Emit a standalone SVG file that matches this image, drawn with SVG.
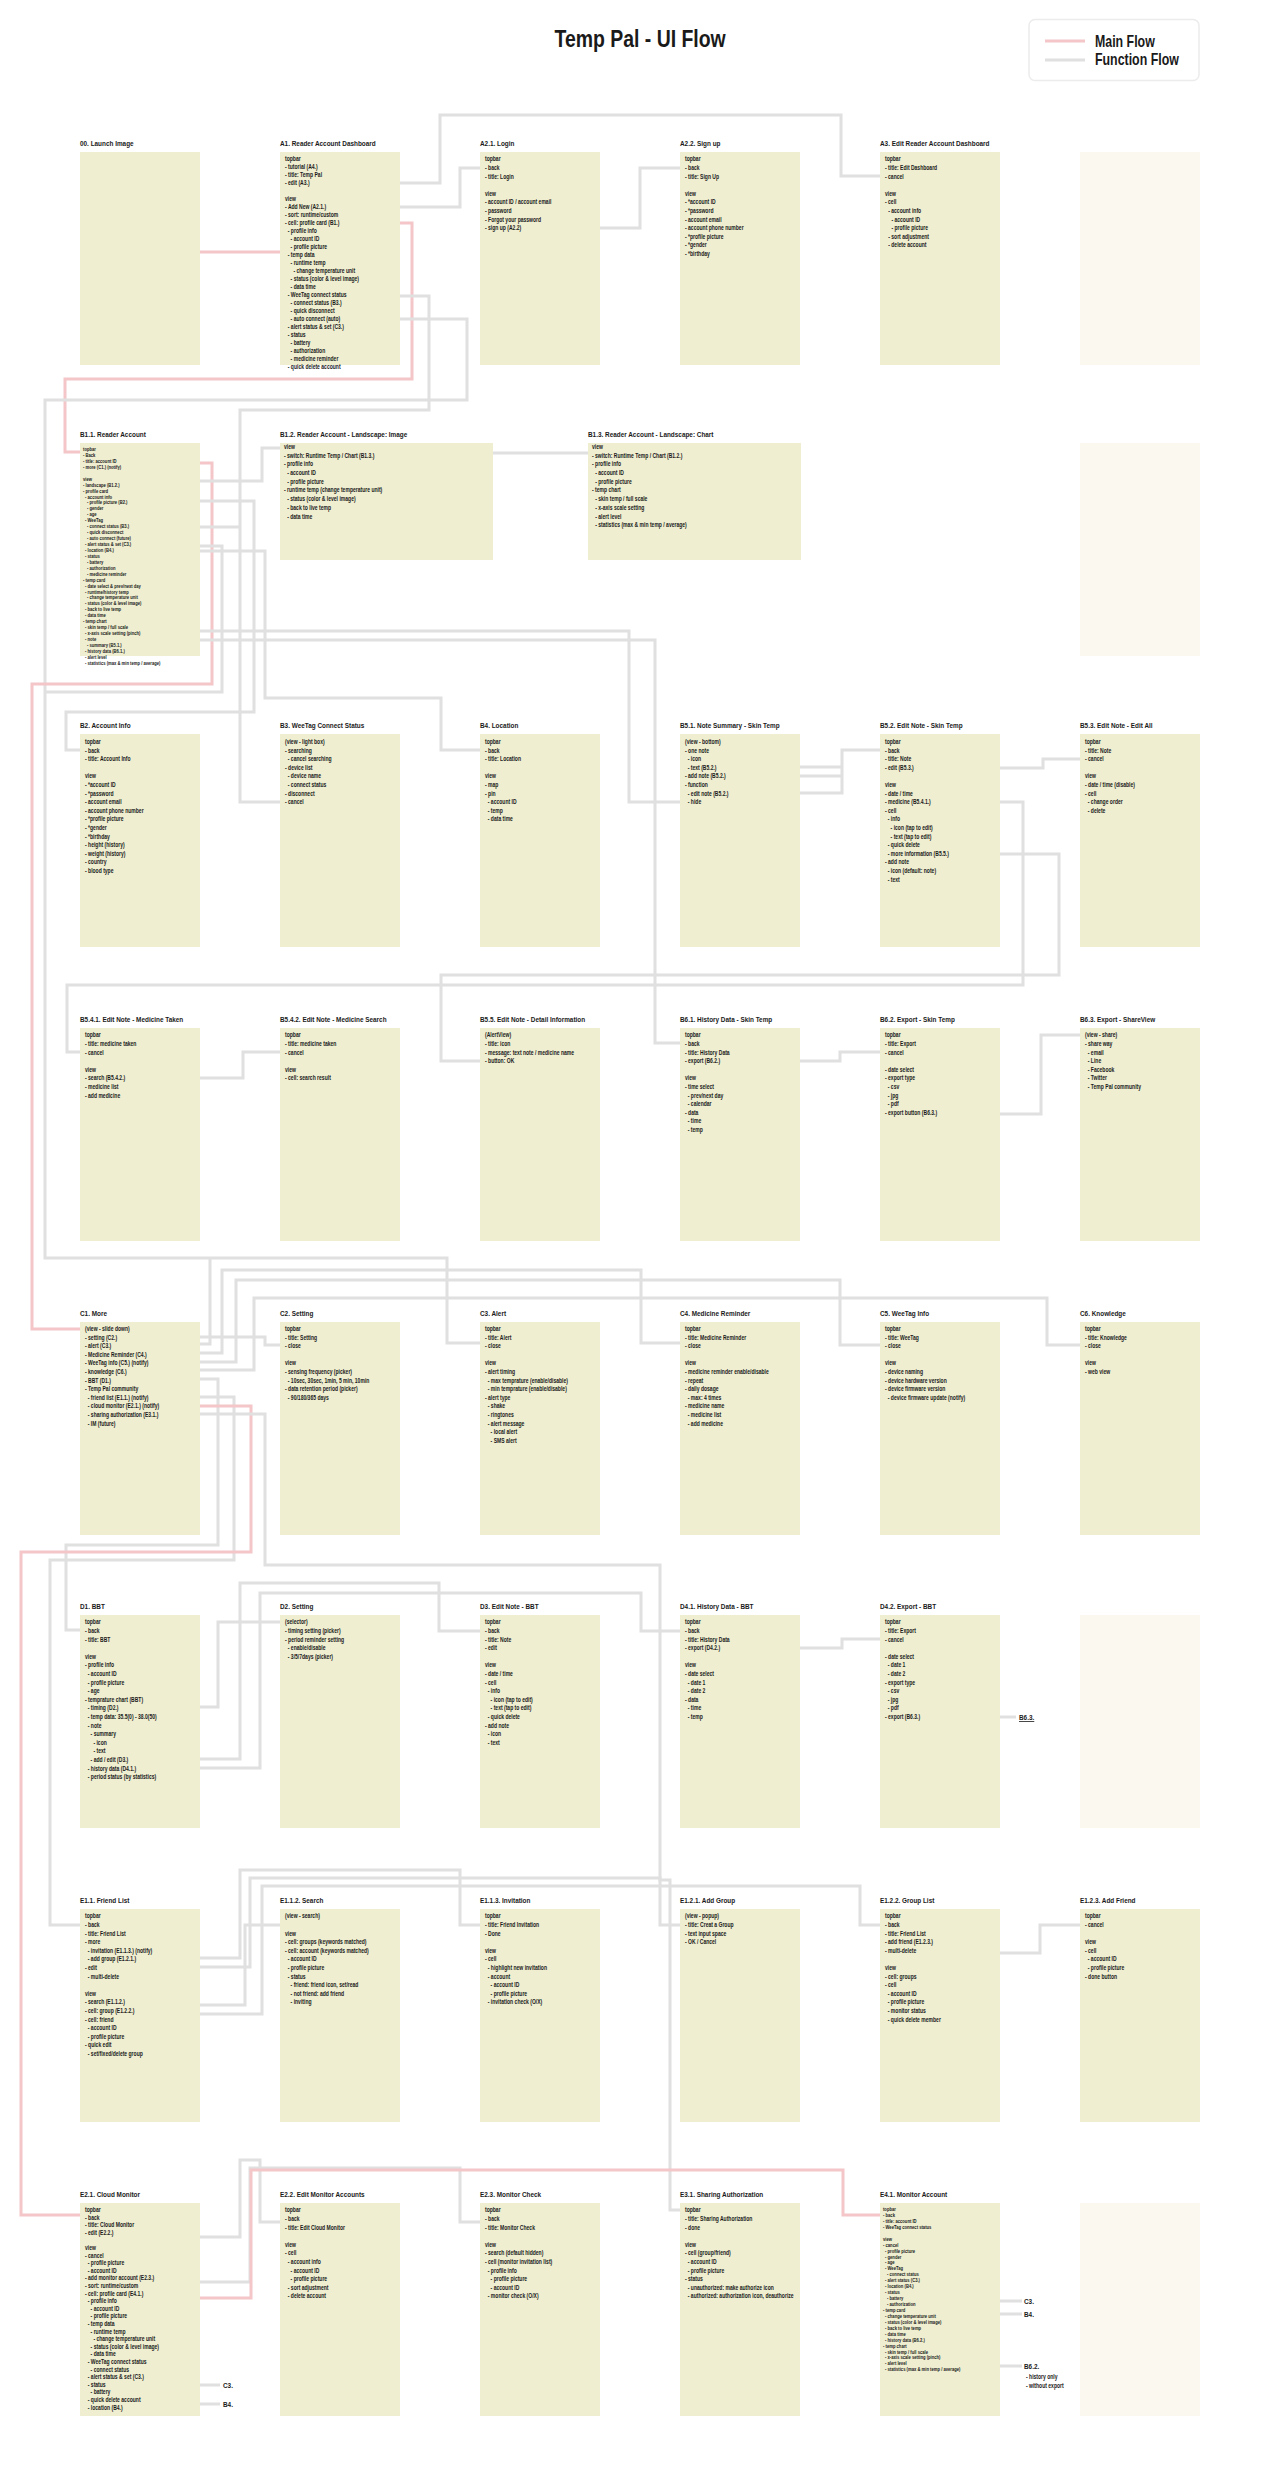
<svg xmlns="http://www.w3.org/2000/svg" width="1280" height="2492" viewBox="0 0 1280 2492">
<style>
text{font-family:"Liberation Sans",Arial,sans-serif;fill:#1a1a1a;transform-box:fill-box;transform-origin:0 0;transform:scaleX(.8)}
.h{font-size:24px;font-weight:bold;transform-origin:50% 0;transform:scaleX(.81)}
.lg{font-size:16.5px;font-weight:bold;transform:scaleX(.75)}
.t{font-size:8px;font-weight:bold}
.b{font-size:6.3px;font-weight:bold}
.s{font-size:5.2px;font-weight:bold}
.box{fill:#efeed0}
.ghost{fill:#fbf9ef}
.fn{fill:none;stroke:#e0e0e0;stroke-width:3}
.mn{fill:none;stroke:#f4c6c8;stroke-width:3}
</style>
<rect width="1280" height="2492" fill="#ffffff"/>
<text class="h" x="640" y="47" text-anchor="middle">Temp Pal - UI Flow</text>
<g id="legend">
<rect x="1029" y="19.5" width="170" height="61" rx="6" fill="#fff" stroke="#ececec" stroke-width="1.5"/>
<line x1="1045" y1="41" x2="1085" y2="41" class="mn"/>
<line x1="1045" y1="60" x2="1085" y2="60" class="fn"/>
<text class="lg" x="1095" y="47">Main Flow</text>
<text class="lg" x="1095" y="65.5">Function Flow</text>
</g>

<g id="connectors">
<path class="mn" d="M200,252H280"/>
<path class="mn" d="M400,223H412V379H65V452H80"/>
<path class="fn" d="M400,183H440V115H841V176H880"/>
<path class="fn" d="M400,207H460V168H480"/>
<path class="fn" d="M600,228H640V168H680"/>
<path class="fn" d="M400,296H429V410H240V802H280"/>
<path class="fn" d="M400,319H467V400H45V1258H447V1343H480"/>
<path class="mn" d="M200,463H212V684H32V1329H80"/>
<path class="fn" d="M200,481H262V448H280"/>
<path class="fn" d="M493,453H588"/>
<path class="fn" d="M200,501H254V712H66V750H80"/>
<path class="fn" d="M200,527H240"/>
<path class="fn" d="M200,546H222V692H45"/>
<path class="fn" d="M200,551H265V698H441V750H480"/>
<path class="fn" d="M200,631H629V802H680"/>
<path class="fn" d="M200,640H655V1043H680"/>
<path class="fn" d="M800,767H842V750H880M800,776H842M800,793H842V750"/>
<path class="fn" d="M1000,768H1043V759H1080"/>
<path class="fn" d="M1000,802H1023V985H67V1052H80"/>
<path class="fn" d="M1000,854H1059V975H441V1061H480"/>
<path class="fn" d="M200,1078H243V1052H280"/>
<path class="fn" d="M800,1061H840V1052H880"/>
<path class="fn" d="M1000,1114H1041V1035H1080"/>
<path class="fn" d="M200,1337H265V1345H280"/>
<path class="fn" d="M200,1344H210V1258"/>
<path class="fn" d="M200,1353H222V1270H641V1343H680"/>
<path class="fn" d="M200,1362H236V1280H840V1345H880"/>
<path class="fn" d="M200,1370H254V1298H1047V1345H1080"/>
<path class="fn" d="M200,1379H218V1545H66V1630H80"/>
<path class="fn" d="M200,1397H234V1560H50V1925H80"/>
<path class="mn" d="M200,1406H251V1552H21V2215H80"/>
<path class="fn" d="M200,1414H265V1565H660V1880H670V2210H680"/>
<path class="fn" d="M200,1707H218V1622H280"/>
<path class="fn" d="M200,1759H240V1583H439V1631H480"/>
<path class="fn" d="M200,1768H260V1593H641V1631H680"/>
<path class="fn" d="M800,1648H842V1639H880"/>
<path class="fn" d="M1000,1717H1016"/>
<path class="fn" d="M200,1958H240V1870H460V1925H480"/>
<path class="fn" d="M200,1967H250V1878H660V1925H680"/>
<path class="fn" d="M200,2005H245V1925H280"/>
<path class="fn" d="M200,2014H262V1886H860V1925H880"/>
<path class="fn" d="M1000,1953H1040V1925H1080"/>
<path class="fn" d="M200,2237H240V2160H260V2222H280"/>
<path class="fn" d="M200,2282H250V2168H460V2222H480"/>
<path class="mn" d="M200,2298H251V2170H843V2215H880"/>
<path class="fn" d="M200,2385H220M200,2404H220"/>
<path class="fn" d="M1000,2301H1022M1000,2314H1022M1000,2366H1022"/>
</g>

<g id="n00"><rect class="box" x="80" y="152" width="120" height="213"/><text class="t" x="80" y="146.5">00. Launch Image</text></g>

<g id="nA1"><rect class="box" x="280" y="152" width="120" height="213"/><text class="t" x="280" y="146.5">A1. Reader Account Dashboard</text>
<text class="b" y="161.5"><tspan x="285">topbar</tspan><tspan x="285" dy="8">- tutorial (A4.)</tspan><tspan x="285" dy="8">- title: Temp Pal</tspan><tspan x="285" dy="8">- edit (A3.)</tspan><tspan x="285" dy="16">view</tspan><tspan x="285" dy="8">- Add New (A2.1.)</tspan><tspan x="285" dy="8">- sort: runtime/custom</tspan><tspan x="285" dy="8">- cell: profile card (B1.)</tspan><tspan x="288.5" dy="8">- profile info</tspan><tspan x="292" dy="8">- account ID</tspan><tspan x="292" dy="8">- profile picture</tspan><tspan x="288.5" dy="8">- temp data</tspan><tspan x="292" dy="8">- runtime temp</tspan><tspan x="295.5" dy="8">- change temperature unit</tspan><tspan x="292" dy="8">- status (color &amp; level image)</tspan><tspan x="292" dy="8">- data time</tspan><tspan x="288.5" dy="8">- WeeTag connect status</tspan><tspan x="292" dy="8">- connect status (B3.)</tspan><tspan x="292" dy="8">- quick disconnect</tspan><tspan x="292" dy="8">- auto connect (auto)</tspan><tspan x="288.5" dy="8">- alert status &amp; set (C3.)</tspan><tspan x="288.5" dy="8">- status</tspan><tspan x="292" dy="8">- battery</tspan><tspan x="292" dy="8">- authorization</tspan><tspan x="292" dy="8">- medicine reminder</tspan><tspan x="288.5" dy="8">- quick delete account</tspan></text></g>

<g id="nA21"><rect class="box" x="480" y="152" width="120" height="213"/><text class="t" x="480" y="146.5">A2.1. Login</text>
<text class="b" y="161.5"><tspan x="485">topbar</tspan><tspan x="485" dy="8.6">- back</tspan><tspan x="485" dy="8.6">- title: Login</tspan><tspan x="485" dy="17.2">view</tspan><tspan x="485" dy="8.6">- account ID / account email</tspan><tspan x="485" dy="8.6">- password</tspan><tspan x="485" dy="8.6">- Forgot your password</tspan><tspan x="485" dy="8.6">- sign up (A2.2)</tspan></text></g>

<g id="nA22"><rect class="box" x="680" y="152" width="120" height="213"/><text class="t" x="680" y="146.5">A2.2. Sign up</text>
<text class="b" y="161.5"><tspan x="685">topbar</tspan><tspan x="685" dy="8.6">- back</tspan><tspan x="685" dy="8.6">- title: Sign Up</tspan><tspan x="685" dy="17.2">view</tspan><tspan x="685" dy="8.6">- *account ID</tspan><tspan x="685" dy="8.6">- *password</tspan><tspan x="685" dy="8.6">- account email</tspan><tspan x="685" dy="8.6">- account phone number</tspan><tspan x="685" dy="8.6">- *profile picture</tspan><tspan x="685" dy="8.6">- *gender</tspan><tspan x="685" dy="8.6">- *birthday</tspan></text></g>

<g id="nA3"><rect class="box" x="880" y="152" width="120" height="213"/><text class="t" x="880" y="146.5">A3. Edit Reader Account Dashboard</text>
<text class="b" y="161.5"><tspan x="885">topbar</tspan><tspan x="885" dy="8.6">- title: Edit Dashboard</tspan><tspan x="885" dy="8.6">- cancel</tspan><tspan x="885" dy="17.2">view</tspan><tspan x="885" dy="8.6">- cell</tspan><tspan x="889" dy="8.6">- account info</tspan><tspan x="893" dy="8.6">- account ID</tspan><tspan x="893" dy="8.6">- profile picture</tspan><tspan x="889" dy="8.6">- sort adjustment</tspan><tspan x="889" dy="8.6">- delete account</tspan></text></g>

<g id="nA-blank"><rect class="ghost" x="1080" y="152" width="120" height="213"/></g>

<g id="nB11"><rect class="box" x="80" y="443" width="120" height="213"/><text class="t" x="80" y="437.5">B1.1. Reader Account</text>
<text class="s" y="451"><tspan x="83">topbar</tspan><tspan x="83" dy="5.94">- Back</tspan><tspan x="83" dy="5.94">- title: account ID</tspan><tspan x="83" dy="5.94">- more (C1.) (notify)</tspan><tspan x="83" dy="11.88">view</tspan><tspan x="83" dy="5.94">- landscape (B1.2.)</tspan><tspan x="83" dy="5.94">- profile card</tspan><tspan x="85.5" dy="5.94">- account info</tspan><tspan x="88" dy="5.94">- profile picture (B2.)</tspan><tspan x="88" dy="5.94">- gender</tspan><tspan x="88" dy="5.94">- age</tspan><tspan x="85.5" dy="5.94">- WeeTag</tspan><tspan x="88" dy="5.94">- connect status (B3.)</tspan><tspan x="88" dy="5.94">- quick disconnect</tspan><tspan x="88" dy="5.94">- auto connect (future)</tspan><tspan x="85.5" dy="5.94">- alert status &amp; set (C3.)</tspan><tspan x="85.5" dy="5.94">- location (B4.)</tspan><tspan x="85.5" dy="5.94">- status</tspan><tspan x="88" dy="5.94">- battery</tspan><tspan x="88" dy="5.94">- authorization</tspan><tspan x="88" dy="5.94">- medicine reminder</tspan><tspan x="83" dy="5.94">- temp card</tspan><tspan x="85.5" dy="5.94">- date select &amp; prev/next day</tspan><tspan x="85.5" dy="5.94">- runtime/history temp</tspan><tspan x="88" dy="5.94">- change temperature unit</tspan><tspan x="85.5" dy="5.94">- status (color &amp; level image)</tspan><tspan x="85.5" dy="5.94">- back to live temp</tspan><tspan x="85.5" dy="5.94">- data time</tspan><tspan x="83" dy="5.94">- temp chart</tspan><tspan x="85.5" dy="5.94">- skin temp / full scale</tspan><tspan x="85.5" dy="5.94">- x-axis scale setting (pinch)</tspan><tspan x="85.5" dy="5.94">- note</tspan><tspan x="88" dy="5.94">- summary (B5.1.)</tspan><tspan x="85.5" dy="5.94">- history data (B6.1.)</tspan><tspan x="85.5" dy="5.94">- alert level</tspan><tspan x="85.5" dy="5.94">- statistics (max &amp; min temp / average)</tspan></text></g>

<g id="nB12"><rect class="box" x="280" y="443" width="213" height="117"/><text class="t" x="280" y="437.5">B1.2. Reader Account - Landscape: Image</text>
<text class="b" y="449"><tspan x="284">view</tspan><tspan x="284" dy="8.7">- switch: Runtime Temp / Chart (B1.3.)</tspan><tspan x="284" dy="8.7">- profile info</tspan><tspan x="288" dy="8.7">- account ID</tspan><tspan x="288" dy="8.7">- profile picture</tspan><tspan x="284" dy="8.7">- runtime temp (change temperature unit)</tspan><tspan x="288" dy="8.7">- status (color &amp; level image)</tspan><tspan x="288" dy="8.7">- back to live temp</tspan><tspan x="288" dy="8.7">- data time</tspan></text></g>

<g id="nB13"><rect class="box" x="588" y="443" width="213" height="117"/><text class="t" x="588" y="437.5">B1.3. Reader Account - Landscape: Chart</text>
<text class="b" y="449"><tspan x="592">view</tspan><tspan x="592" dy="8.7">- switch: Runtime Temp / Chart (B1.2.)</tspan><tspan x="592" dy="8.7">- profile info</tspan><tspan x="596" dy="8.7">- account ID</tspan><tspan x="596" dy="8.7">- profile picture</tspan><tspan x="592" dy="8.7">- temp chart</tspan><tspan x="596" dy="8.7">- skin temp / full scale</tspan><tspan x="596" dy="8.7">- x-axis scale setting</tspan><tspan x="596" dy="8.7">- alert level</tspan><tspan x="596" dy="8.7">- statistics (max &amp; min temp / average)</tspan></text></g>

<g id="nB-blank"><rect class="ghost" x="1080" y="443" width="120" height="213"/></g>

<g id="nB2"><rect class="box" x="80" y="734" width="120" height="213"/><text class="t" x="80" y="728.5">B2. Account Info</text>
<text class="b" y="744"><tspan x="85">topbar</tspan><tspan x="85" dy="8.6">- back</tspan><tspan x="85" dy="8.6">- title: Account Info</tspan><tspan x="85" dy="17.2">view</tspan><tspan x="85" dy="8.6">- *account ID</tspan><tspan x="85" dy="8.6">- *password</tspan><tspan x="85" dy="8.6">- account email</tspan><tspan x="85" dy="8.6">- account phone number</tspan><tspan x="85" dy="8.6">- *profile picture</tspan><tspan x="85" dy="8.6">- *gender</tspan><tspan x="85" dy="8.6">- *birthday</tspan><tspan x="85" dy="8.6">- height (history)</tspan><tspan x="85" dy="8.6">- weight (history)</tspan><tspan x="85" dy="8.6">- country</tspan><tspan x="85" dy="8.6">- blood type</tspan></text></g>

<g id="nB3"><rect class="box" x="280" y="734" width="120" height="213"/><text class="t" x="280" y="728.5">B3. WeeTag Connect Status</text>
<text class="b" y="744"><tspan x="285">(view - light box)</tspan><tspan x="285" dy="8.6">- searching</tspan><tspan x="288.5" dy="8.6">- cancel searching</tspan><tspan x="285" dy="8.6">- device list</tspan><tspan x="288.5" dy="8.6">- device name</tspan><tspan x="288.5" dy="8.6">- connect status</tspan><tspan x="285" dy="8.6">- disconnect</tspan><tspan x="285" dy="8.6">- cancel</tspan></text></g>

<g id="nB4"><rect class="box" x="480" y="734" width="120" height="213"/><text class="t" x="480" y="728.5">B4. Location</text>
<text class="b" y="744"><tspan x="485">topbar</tspan><tspan x="485" dy="8.6">- back</tspan><tspan x="485" dy="8.6">- title: Location</tspan><tspan x="485" dy="17.2">view</tspan><tspan x="485" dy="8.6">- map</tspan><tspan x="485" dy="8.6">- pin</tspan><tspan x="488.5" dy="8.6">- account ID</tspan><tspan x="488.5" dy="8.6">- temp</tspan><tspan x="488.5" dy="8.6">- data time</tspan></text></g>

<g id="nB51"><rect class="box" x="680" y="734" width="120" height="213"/><text class="t" x="680" y="728.5">B5.1. Note Summary - Skin Temp</text>
<text class="b" y="744"><tspan x="685">(view - bottom)</tspan><tspan x="685" dy="8.6">- one note</tspan><tspan x="688.5" dy="8.6">- icon</tspan><tspan x="688.5" dy="8.6">- text (B5.2.)</tspan><tspan x="685" dy="8.6">- add note (B5.2.)</tspan><tspan x="685" dy="8.6">- function</tspan><tspan x="688.5" dy="8.6">- edit note (B5.2.)</tspan><tspan x="688.5" dy="8.6">- hide</tspan></text></g>

<g id="nB52"><rect class="box" x="880" y="734" width="120" height="213"/><text class="t" x="880" y="728.5">B5.2. Edit Note - Skin Temp</text>
<text class="b" y="744"><tspan x="885">topbar</tspan><tspan x="885" dy="8.6">- back</tspan><tspan x="885" dy="8.6">- title: Note</tspan><tspan x="885" dy="8.6">- edit (B5.3.)</tspan><tspan x="885" dy="17.2">view</tspan><tspan x="885" dy="8.6">- date / time</tspan><tspan x="885" dy="8.6">- medicine (B5.4.1.)</tspan><tspan x="885" dy="8.6">- cell</tspan><tspan x="888.5" dy="8.6">- info</tspan><tspan x="892" dy="8.6">- icon (tap to edit)</tspan><tspan x="892" dy="8.6">- text (tap to edit)</tspan><tspan x="888.5" dy="8.6">- quick delete</tspan><tspan x="888.5" dy="8.6">- more information (B5.5.)</tspan><tspan x="885" dy="8.6">- add note</tspan><tspan x="888.5" dy="8.6">- icon (default: note)</tspan><tspan x="888.5" dy="8.6">- text</tspan></text></g>

<g id="nB53"><rect class="box" x="1080" y="734" width="120" height="213"/><text class="t" x="1080" y="728.5">B5.3. Edit Note - Edit All</text>
<text class="b" y="744"><tspan x="1085">topbar</tspan><tspan x="1085" dy="8.6">- title: Note</tspan><tspan x="1085" dy="8.6">- cancel</tspan><tspan x="1085" dy="17.2">view</tspan><tspan x="1085" dy="8.6">- date / time (disable)</tspan><tspan x="1085" dy="8.6">- cell</tspan><tspan x="1088.5" dy="8.6">- change order</tspan><tspan x="1088.5" dy="8.6">- delete</tspan></text></g>

<g id="nB541"><rect class="box" x="80" y="1028" width="120" height="213"/><text class="t" x="80" y="1022.5">B5.4.1. Edit Note - Medicine Taken</text>
<text class="b" y="1037.5"><tspan x="85">topbar</tspan><tspan x="85" dy="8.6">- title: medicine taken</tspan><tspan x="85" dy="8.6">- cancel</tspan><tspan x="85" dy="17.2">view</tspan><tspan x="85" dy="8.6">- search (B5.4.2.)</tspan><tspan x="85" dy="8.6">- medicine list</tspan><tspan x="85" dy="8.6">- add medicine</tspan></text></g>

<g id="nB542"><rect class="box" x="280" y="1028" width="120" height="213"/><text class="t" x="280" y="1022.5">B5.4.2. Edit Note - Medicine Search</text>
<text class="b" y="1037.5"><tspan x="285">topbar</tspan><tspan x="285" dy="8.6">- title: medicine taken</tspan><tspan x="285" dy="8.6">- cancel</tspan><tspan x="285" dy="17.2">view</tspan><tspan x="285" dy="8.6">- cell: search result</tspan></text></g>

<g id="nB55"><rect class="box" x="480" y="1028" width="120" height="213"/><text class="t" x="480" y="1022.5">B5.5. Edit Note - Detail Information</text>
<text class="b" y="1037.5"><tspan x="485">(AlertView)</tspan><tspan x="485" dy="8.6">- title: icon</tspan><tspan x="485" dy="8.6">- message: text note / medicine name</tspan><tspan x="485" dy="8.6">- button: OK</tspan></text></g>

<g id="nB61"><rect class="box" x="680" y="1028" width="120" height="213"/><text class="t" x="680" y="1022.5">B6.1. History Data - Skin Temp</text>
<text class="b" y="1037.5"><tspan x="685">topbar</tspan><tspan x="685" dy="8.6">- back</tspan><tspan x="685" dy="8.6">- title: History Data</tspan><tspan x="685" dy="8.6">- export (B6.2.)</tspan><tspan x="685" dy="17.2">view</tspan><tspan x="685" dy="8.6">- time select</tspan><tspan x="688.5" dy="8.6">- prev/next day</tspan><tspan x="688.5" dy="8.6">- calendar</tspan><tspan x="685" dy="8.6">- data</tspan><tspan x="688.5" dy="8.6">- time</tspan><tspan x="688.5" dy="8.6">- temp</tspan></text></g>

<g id="nB62"><rect class="box" x="880" y="1028" width="120" height="213"/><text class="t" x="880" y="1022.5">B6.2. Export - Skin Temp</text>
<text class="b" y="1037.5"><tspan x="885">topbar</tspan><tspan x="885" dy="8.6">- title: Export</tspan><tspan x="885" dy="8.6">- cancel</tspan><tspan x="885" dy="17.2">- date select</tspan><tspan x="885" dy="8.6">- export type</tspan><tspan x="888.5" dy="8.6">- csv</tspan><tspan x="888.5" dy="8.6">- jpg</tspan><tspan x="888.5" dy="8.6">- pdf</tspan><tspan x="885" dy="8.6">- export button (B6.3.)</tspan></text></g>

<g id="nB63"><rect class="box" x="1080" y="1028" width="120" height="213"/><text class="t" x="1080" y="1022.5">B6.3. Export - ShareView</text>
<text class="b" y="1037.5"><tspan x="1085">(view - share)</tspan><tspan x="1085" dy="8.6">- share way</tspan><tspan x="1088.5" dy="8.6">- email</tspan><tspan x="1088.5" dy="8.6">- Line</tspan><tspan x="1088.5" dy="8.6">- Facebook</tspan><tspan x="1088.5" dy="8.6">- Twitter</tspan><tspan x="1088.5" dy="8.6">- Temp Pal community</tspan></text></g>

<g id="nC1"><rect class="box" x="80" y="1322" width="120" height="213"/><text class="t" x="80" y="1316.5">C1. More</text>
<text class="b" y="1331"><tspan x="85">(view - slide down)</tspan><tspan x="85" dy="8.6">- setting (C2.)</tspan><tspan x="85" dy="8.6">- alert (C3.)</tspan><tspan x="85" dy="8.6">- Medicine Reminder (C4.)</tspan><tspan x="85" dy="8.6">- WeeTag info (C5.) (notify)</tspan><tspan x="85" dy="8.6">- knowledge (C6.)</tspan><tspan x="85" dy="8.6">- BBT (D1.)</tspan><tspan x="85" dy="8.6">- Temp Pal community</tspan><tspan x="88.5" dy="8.6">- friend list (E1.1.) (notify)</tspan><tspan x="88.5" dy="8.6">- cloud monitor (E2.1.) (notify)</tspan><tspan x="88.5" dy="8.6">- sharing authorization (E3.1.)</tspan><tspan x="88.5" dy="8.6">- IM (future)</tspan></text></g>

<g id="nC2"><rect class="box" x="280" y="1322" width="120" height="213"/><text class="t" x="280" y="1316.5">C2. Setting</text>
<text class="b" y="1331"><tspan x="285">topbar</tspan><tspan x="285" dy="8.6">- title: Setting</tspan><tspan x="285" dy="8.6">- close</tspan><tspan x="285" dy="17.2">view</tspan><tspan x="285" dy="8.6">- sensing frequency (picker)</tspan><tspan x="288.5" dy="8.6">- 10sec, 30sec, 1min, 5 min, 10min</tspan><tspan x="285" dy="8.6">- data retention period (picker)</tspan><tspan x="288.5" dy="8.6">- 90/180/365 days</tspan></text></g>

<g id="nC3"><rect class="box" x="480" y="1322" width="120" height="213"/><text class="t" x="480" y="1316.5">C3. Alert</text>
<text class="b" y="1331"><tspan x="485">topbar</tspan><tspan x="485" dy="8.6">- title: Alert</tspan><tspan x="485" dy="8.6">- close</tspan><tspan x="485" dy="17.2">view</tspan><tspan x="485" dy="8.6">- alert timing</tspan><tspan x="488.5" dy="8.6">- max temprature (enable/disable)</tspan><tspan x="488.5" dy="8.6">- min temprature (enable/disable)</tspan><tspan x="485" dy="8.6">- alert type</tspan><tspan x="488.5" dy="8.6">- shake</tspan><tspan x="488.5" dy="8.6">- ringtones</tspan><tspan x="488.5" dy="8.6">- alert message</tspan><tspan x="492" dy="8.6">- local alert</tspan><tspan x="492" dy="8.6">- SMS alert</tspan></text></g>

<g id="nC4"><rect class="box" x="680" y="1322" width="120" height="213"/><text class="t" x="680" y="1316.5">C4. Medicine Reminder</text>
<text class="b" y="1331"><tspan x="685">topbar</tspan><tspan x="685" dy="8.6">- title: Medicine Reminder</tspan><tspan x="685" dy="8.6">- close</tspan><tspan x="685" dy="17.2">view</tspan><tspan x="685" dy="8.6">- medicine reminder enable/disable</tspan><tspan x="685" dy="8.6">- repeat</tspan><tspan x="685" dy="8.6">- daily dosage</tspan><tspan x="688.5" dy="8.6">- max: 4 times</tspan><tspan x="685" dy="8.6">- medicine name</tspan><tspan x="688.5" dy="8.6">- medicine list</tspan><tspan x="688.5" dy="8.6">- add medicine</tspan></text></g>

<g id="nC5"><rect class="box" x="880" y="1322" width="120" height="213"/><text class="t" x="880" y="1316.5">C5. WeeTag Info</text>
<text class="b" y="1331"><tspan x="885">topbar</tspan><tspan x="885" dy="8.6">- title: WeeTag</tspan><tspan x="885" dy="8.6">- close</tspan><tspan x="885" dy="17.2">view</tspan><tspan x="885" dy="8.6">- device naming</tspan><tspan x="885" dy="8.6">- device hardware version</tspan><tspan x="885" dy="8.6">- device firmware version</tspan><tspan x="888.5" dy="8.6">- device firmware update (notify)</tspan></text></g>

<g id="nC6"><rect class="box" x="1080" y="1322" width="120" height="213"/><text class="t" x="1080" y="1316.5">C6. Knowledge</text>
<text class="b" y="1331"><tspan x="1085">topbar</tspan><tspan x="1085" dy="8.6">- title: Knowledge</tspan><tspan x="1085" dy="8.6">- close</tspan><tspan x="1085" dy="17.2">view</tspan><tspan x="1085" dy="8.6">- web view</tspan></text></g>

<g id="nD1"><rect class="box" x="80" y="1615" width="120" height="213"/><text class="t" x="80" y="1609.5">D1. BBT</text>
<text class="b" y="1624.5"><tspan x="85">topbar</tspan><tspan x="85" dy="8.6">- back</tspan><tspan x="85" dy="8.6">- title: BBT</tspan><tspan x="85" dy="17.2">view</tspan><tspan x="85" dy="8.6">- profile info</tspan><tspan x="88.5" dy="8.6">- account ID</tspan><tspan x="88.5" dy="8.6">- profile picture</tspan><tspan x="88.5" dy="8.6">- age</tspan><tspan x="85" dy="8.6">- temprature chart (BBT)</tspan><tspan x="88.5" dy="8.6">- timing (D2.)</tspan><tspan x="88.5" dy="8.6">- temp data: 35.5(0) - 38.0(50)</tspan><tspan x="88.5" dy="8.6">- note</tspan><tspan x="92" dy="8.6">- summary</tspan><tspan x="95.5" dy="8.6">- icon</tspan><tspan x="95.5" dy="8.6">- text</tspan><tspan x="92" dy="8.6">- add / edit (D3.)</tspan><tspan x="88.5" dy="8.6">- history data (D4.1.)</tspan><tspan x="88.5" dy="8.6">- period status (by statistics)</tspan></text></g>

<g id="nD2"><rect class="box" x="280" y="1615" width="120" height="213"/><text class="t" x="280" y="1609.5">D2. Setting</text>
<text class="b" y="1624.5"><tspan x="285">(selector)</tspan><tspan x="285" dy="8.6">- timing setting (picker)</tspan><tspan x="285" dy="8.6">- period reminder setting</tspan><tspan x="288.5" dy="8.6">- enable/disable</tspan><tspan x="288.5" dy="8.6">- 3/5/7days  (picker)</tspan></text></g>

<g id="nD3"><rect class="box" x="480" y="1615" width="120" height="213"/><text class="t" x="480" y="1609.5">D3. Edit Note - BBT</text>
<text class="b" y="1624.5"><tspan x="485">topbar</tspan><tspan x="485" dy="8.6">- back</tspan><tspan x="485" dy="8.6">- title: Note</tspan><tspan x="485" dy="8.6">- edit</tspan><tspan x="485" dy="17.2">view</tspan><tspan x="485" dy="8.6">- date / time</tspan><tspan x="485" dy="8.6">- cell</tspan><tspan x="488.5" dy="8.6">- info</tspan><tspan x="492" dy="8.6">- icon (tap to edit)</tspan><tspan x="492" dy="8.6">- text (tap to edit)</tspan><tspan x="488.5" dy="8.6">- quick delete</tspan><tspan x="485" dy="8.6">- add note</tspan><tspan x="488.5" dy="8.6">- icon</tspan><tspan x="488.5" dy="8.6">- text</tspan></text></g>

<g id="nD41"><rect class="box" x="680" y="1615" width="120" height="213"/><text class="t" x="680" y="1609.5">D4.1. History Data - BBT</text>
<text class="b" y="1624.5"><tspan x="685">topbar</tspan><tspan x="685" dy="8.6">- back</tspan><tspan x="685" dy="8.6">- title: History Data</tspan><tspan x="685" dy="8.6">- export (D4.2.)</tspan><tspan x="685" dy="17.2">view</tspan><tspan x="685" dy="8.6">- date select</tspan><tspan x="688.5" dy="8.6">- date 1</tspan><tspan x="688.5" dy="8.6">- date 2</tspan><tspan x="685" dy="8.6">- data</tspan><tspan x="688.5" dy="8.6">- time</tspan><tspan x="688.5" dy="8.6">- temp</tspan></text></g>

<g id="nD42"><rect class="box" x="880" y="1615" width="120" height="213"/><text class="t" x="880" y="1609.5">D4.2. Export - BBT</text>
<text class="b" y="1624.5"><tspan x="885">topbar</tspan><tspan x="885" dy="8.6">- title: Export</tspan><tspan x="885" dy="8.6">- cancel</tspan><tspan x="885" dy="17.2">- date select</tspan><tspan x="888.5" dy="8.6">- date 1</tspan><tspan x="888.5" dy="8.6">- date 2</tspan><tspan x="885" dy="8.6">- export type</tspan><tspan x="888.5" dy="8.6">- csv</tspan><tspan x="888.5" dy="8.6">- jpg</tspan><tspan x="888.5" dy="8.6">- pdf</tspan><tspan x="885" dy="8.6">- export (B6.3.)</tspan></text>
<text class="t" x="1019" y="1720" text-decoration="underline">B6.3.</text></g>

<g id="nD-blank"><rect class="ghost" x="1080" y="1615" width="120" height="213"/></g>

<g id="nE11"><rect class="box" x="80" y="1909" width="120" height="213"/><text class="t" x="80" y="1903.5">E1.1. Friend List</text>
<text class="b" y="1918.5"><tspan x="85">topbar</tspan><tspan x="85" dy="8.6">- back</tspan><tspan x="85" dy="8.6">- title: Friend List</tspan><tspan x="85" dy="8.6">- more</tspan><tspan x="88.5" dy="8.6">- invitation (E1.1.3.) (notify)</tspan><tspan x="88.5" dy="8.6">- add group (E1.2.1.)</tspan><tspan x="85" dy="8.6">- edit</tspan><tspan x="88.5" dy="8.6">- multi-delete</tspan><tspan x="85" dy="17.2">view</tspan><tspan x="85" dy="8.6">- search (E1.1.2.)</tspan><tspan x="85" dy="8.6">- cell: group (E1.2.2.)</tspan><tspan x="85" dy="8.6">- cell: friend</tspan><tspan x="88.5" dy="8.6">- account ID</tspan><tspan x="88.5" dy="8.6">- profile picture</tspan><tspan x="85" dy="8.6">- quick edit</tspan><tspan x="88.5" dy="8.6">- set/fixed/delete group</tspan></text></g>

<g id="nE112"><rect class="box" x="280" y="1909" width="120" height="213"/><text class="t" x="280" y="1903.5">E1.1.2. Search</text>
<text class="b" y="1918.5"><tspan x="285">(view - search)</tspan><tspan x="285" dy="17.2">view</tspan><tspan x="285" dy="8.6">- cell: groups (keywords matched)</tspan><tspan x="285" dy="8.6">- cell: account (keywords matched)</tspan><tspan x="288.5" dy="8.6">- account ID</tspan><tspan x="288.5" dy="8.6">- profile picture</tspan><tspan x="288.5" dy="8.6">- status</tspan><tspan x="292" dy="8.6">- friend: friend icon, set/read</tspan><tspan x="292" dy="8.6">- not friend: add friend</tspan><tspan x="292" dy="8.6">- inviting</tspan></text></g>

<g id="nE113"><rect class="box" x="480" y="1909" width="120" height="213"/><text class="t" x="480" y="1903.5">E1.1.3. Invitation</text>
<text class="b" y="1918.5"><tspan x="485">topbar</tspan><tspan x="485" dy="8.6">- title: Friend Invitation</tspan><tspan x="485" dy="8.6">- Done</tspan><tspan x="485" dy="17.2">view</tspan><tspan x="485" dy="8.6">- cell</tspan><tspan x="488.5" dy="8.6">- highlight new invitation</tspan><tspan x="488.5" dy="8.6">- account</tspan><tspan x="492" dy="8.6">- account ID</tspan><tspan x="492" dy="8.6">- profile picture</tspan><tspan x="488.5" dy="8.6">- invitation check (O/X)</tspan></text></g>

<g id="nE121"><rect class="box" x="680" y="1909" width="120" height="213"/><text class="t" x="680" y="1903.5">E1.2.1. Add Group</text>
<text class="b" y="1918.5"><tspan x="685">(view - popup)</tspan><tspan x="685" dy="8.6">- title: Creat a Group</tspan><tspan x="685" dy="8.6">- text input space</tspan><tspan x="685" dy="8.6">- OK / Cancel</tspan></text></g>

<g id="nE122"><rect class="box" x="880" y="1909" width="120" height="213"/><text class="t" x="880" y="1903.5">E1.2.2. Group List</text>
<text class="b" y="1918.5"><tspan x="885">topbar</tspan><tspan x="885" dy="8.6">- back</tspan><tspan x="885" dy="8.6">- title: Friend List</tspan><tspan x="885" dy="8.6">- add friend (E1.2.3.)</tspan><tspan x="885" dy="8.6">- multi-delete</tspan><tspan x="885" dy="17.2">view</tspan><tspan x="885" dy="8.6">- cell: groups</tspan><tspan x="885" dy="8.6">- cell</tspan><tspan x="888.5" dy="8.6">- account ID</tspan><tspan x="888.5" dy="8.6">- profile picture</tspan><tspan x="888.5" dy="8.6">- monitor status</tspan><tspan x="888.5" dy="8.6">- quick delete member</tspan></text></g>

<g id="nE123"><rect class="box" x="1080" y="1909" width="120" height="213"/><text class="t" x="1080" y="1903.5">E1.2.3. Add Friend</text>
<text class="b" y="1918.5"><tspan x="1085">topbar</tspan><tspan x="1085" dy="8.6">- cancel</tspan><tspan x="1085" dy="17.2">view</tspan><tspan x="1085" dy="8.6">- cell</tspan><tspan x="1088.5" dy="8.6">- account ID</tspan><tspan x="1088.5" dy="8.6">- profile picture</tspan><tspan x="1085" dy="8.6">- done button</tspan></text></g>

<g id="nE21"><rect class="box" x="80" y="2203" width="120" height="213"/><text class="t" x="80" y="2197.5">E2.1. Cloud Monitor</text>
<text class="b" y="2212"><tspan x="85">topbar</tspan><tspan x="85" dy="7.6">- back</tspan><tspan x="85" dy="7.6">- title: Cloud Monitor</tspan><tspan x="85" dy="7.6">- edit (E2.2.)</tspan><tspan x="85" dy="15.2">view</tspan><tspan x="85" dy="7.6">- cancel</tspan><tspan x="88.5" dy="7.6">- profile picture</tspan><tspan x="88.5" dy="7.6">- account ID</tspan><tspan x="85" dy="7.6">- add monitor account (E2.3.)</tspan><tspan x="85" dy="7.6">- sort: runtime/custom</tspan><tspan x="85" dy="7.6">- cell: profile card (E4.1.)</tspan><tspan x="88.5" dy="7.6">- profile info</tspan><tspan x="92" dy="7.6">- account ID</tspan><tspan x="92" dy="7.6">- profile picture</tspan><tspan x="88.5" dy="7.6">- temp data</tspan><tspan x="92" dy="7.6">- runtime temp</tspan><tspan x="95.5" dy="7.6">- change temperature unit</tspan><tspan x="92" dy="7.6">- status (color &amp; level image)</tspan><tspan x="92" dy="7.6">- data time</tspan><tspan x="88.5" dy="7.6">- WeeTag connect status</tspan><tspan x="92" dy="7.6">- connect status</tspan><tspan x="88.5" dy="7.6">- alert status &amp; set (C3.)</tspan><tspan x="88.5" dy="7.6">- status</tspan><tspan x="92" dy="7.6">- battery</tspan><tspan x="88.5" dy="7.6">- quick delete account</tspan><tspan x="88.5" dy="7.6">- location (B4.)</tspan></text>
<text class="t" x="223" y="2388">C3.</text><text class="t" x="223" y="2407">B4.</text></g>

<g id="nE22"><rect class="box" x="280" y="2203" width="120" height="213"/><text class="t" x="280" y="2197.5">E2.2. Edit Monitor Accounts</text>
<text class="b" y="2212.5"><tspan x="285">topbar</tspan><tspan x="285" dy="8.6">- back</tspan><tspan x="285" dy="8.6">- title: Edit Cloud Monitor</tspan><tspan x="285" dy="17.2">view</tspan><tspan x="285" dy="8.6">- cell</tspan><tspan x="288.5" dy="8.6">- account info</tspan><tspan x="292" dy="8.6">- account ID</tspan><tspan x="292" dy="8.6">- profile picture</tspan><tspan x="288.5" dy="8.6">- sort adjustment</tspan><tspan x="288.5" dy="8.6">- delete account</tspan></text></g>

<g id="nE23"><rect class="box" x="480" y="2203" width="120" height="213"/><text class="t" x="480" y="2197.5">E2.3. Monitor Check</text>
<text class="b" y="2212.5"><tspan x="485">topbar</tspan><tspan x="485" dy="8.6">- back</tspan><tspan x="485" dy="8.6">- title: Monitor Check</tspan><tspan x="485" dy="17.2">view</tspan><tspan x="485" dy="8.6">- search (default hidden)</tspan><tspan x="485" dy="8.6">- cell (monitor invitation list)</tspan><tspan x="488.5" dy="8.6">- profile info</tspan><tspan x="492" dy="8.6">- profile picture</tspan><tspan x="492" dy="8.6">- account ID</tspan><tspan x="488.5" dy="8.6">- monitor check (O/X)</tspan></text></g>

<g id="nE31"><rect class="box" x="680" y="2203" width="120" height="213"/><text class="t" x="680" y="2197.5">E3.1. Sharing Authorization</text>
<text class="b" y="2212.5"><tspan x="685">topbar</tspan><tspan x="685" dy="8.6">- title: Sharing Authorization</tspan><tspan x="685" dy="8.6">- done</tspan><tspan x="685" dy="17.2">view</tspan><tspan x="685" dy="8.6">- cell (group/friend)</tspan><tspan x="688.5" dy="8.6">- account ID</tspan><tspan x="688.5" dy="8.6">- profile picture</tspan><tspan x="685" dy="8.6">- status</tspan><tspan x="688.5" dy="8.6">- unauthorized: make authorize icon</tspan><tspan x="688.5" dy="8.6">- authorized: authorization icon, deauthorize</tspan></text></g>

<g id="nE41"><rect class="box" x="880" y="2203" width="120" height="213"/><text class="t" x="880" y="2197.5">E4.1. Monitor Account</text>
<text class="s" y="2211"><tspan x="883">topbar</tspan><tspan x="883" dy="5.94">- back</tspan><tspan x="883" dy="5.94">- title: account ID</tspan><tspan x="883" dy="5.94">- WeeTag connect status</tspan><tspan x="883" dy="11.88">view</tspan><tspan x="883" dy="5.94">- cancel</tspan><tspan x="885.5" dy="5.94">- profile picture</tspan><tspan x="885.5" dy="5.94">- gender</tspan><tspan x="885.5" dy="5.94">- age</tspan><tspan x="885.5" dy="5.94">- WeeTag</tspan><tspan x="888" dy="5.94">- connect status</tspan><tspan x="885.5" dy="5.94">- alert status (C3.)</tspan><tspan x="885.5" dy="5.94">- location (B4.)</tspan><tspan x="885.5" dy="5.94">- status</tspan><tspan x="888" dy="5.94">- battery</tspan><tspan x="888" dy="5.94">- authorization</tspan><tspan x="883" dy="5.94">- temp card</tspan><tspan x="885.5" dy="5.94">- change temperature unit</tspan><tspan x="885.5" dy="5.94">- status (color &amp; level image)</tspan><tspan x="885.5" dy="5.94">- back to live temp</tspan><tspan x="885.5" dy="5.94">- data time</tspan><tspan x="885.5" dy="5.94">- history data (B6.2.)</tspan><tspan x="883" dy="5.94">- temp chart</tspan><tspan x="885.5" dy="5.94">- skin temp / full scale</tspan><tspan x="885.5" dy="5.94">- x-axis scale setting (pinch)</tspan><tspan x="885.5" dy="5.94">- alert level</tspan><tspan x="885.5" dy="5.94">- statistics (max &amp; min temp / average)</tspan></text>
<text class="t" x="1024" y="2304">C3.</text><text class="t" x="1024" y="2317">B4.</text><text class="t" x="1024" y="2369">B6.2.</text><text class="b" x="1026" y="2379">- history only</text><text class="b" x="1026" y="2388">- without export</text></g>

<g id="nE-blank"><rect class="ghost" x="1080" y="2203" width="120" height="213"/></g>
</svg>
